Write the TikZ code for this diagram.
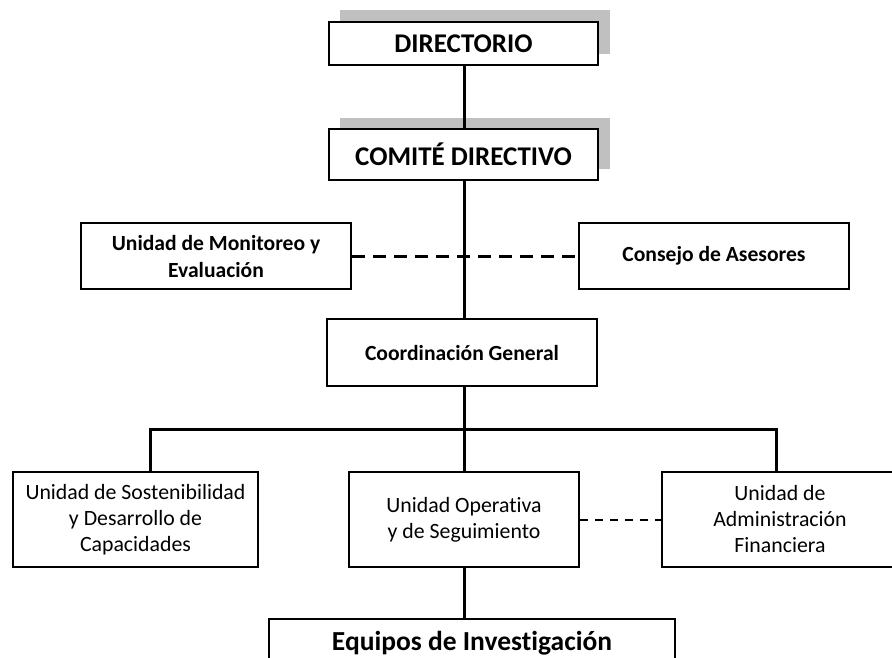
\documentclass[tikz,border=0pt]{standalone}
\usepackage{fontspec}
\setmainfont{Carlito}[Ligatures=NoCommon]
\definecolor{shadowgray}{HTML}{C0C0C0}
\begin{document}
\begin{tikzpicture}[x=1pt,y=-1pt,
  box/.style={draw=black,line width=2pt,fill=white,rectangle,inner sep=0pt,align=center,text=black},
  topbox/.style={box,font=\bfseries\fontsize{27}{32}\selectfont},
  midbox/.style={box,font=\bfseries\fontsize{21.6}{27}\selectfont},
  lowbox/.style={box,font=\fontsize{21.8}{26}\selectfont},
  conn/.style={line width=3pt,black},
  dashconn/.style={line width=3pt,black,dash pattern=on 13pt off 8pt},
  thindash/.style={line width=2pt,black,dash pattern=on 8pt off 7pt},
  shade/.style={fill=shadowgray,draw=none}]
\useasboundingbox (0,0) rectangle (892,658);
\clip (0,0) rectangle (892,658);
% shadows
\fill[shade] (340,10) rectangle (610,54);
\fill[shade] (340,118) rectangle (610,169);
% nodes
\node[topbox,minimum width=269pt,minimum height=43pt] (dir) at (463.5,43.5) {DIRECTORIO};
\node[topbox,minimum width=269pt,minimum height=51pt] (com) at (463.5,154.5) {COMITÉ DIRECTIVO};
\node[midbox,minimum width=270pt,minimum height=66pt] (mon) at (216,256) {Unidad de Monitoreo y\\Evaluación};
\node[midbox,minimum width=270pt,minimum height=66pt] (con) at (714,256) {Consejo de Asesores};
\node[midbox,minimum width=270pt,minimum height=67pt] (coo) at (462,352.5) {Coordinación General};
\node[lowbox,minimum width=245pt,minimum height=95pt] (sos) at (135.5,519.5) {Unidad de Sostenibilidad\\y Desarrollo de\\Capacidades};
\node[lowbox,minimum width=230pt,minimum height=95pt] (ope) at (464,519.5) {Unidad Operativa\\y de Seguimiento};
\node[lowbox,minimum width=236pt,minimum height=95pt] (adm) at (780,519.5) {Unidad de\\Administración\\Financiera};
\node[box,font=\bfseries\fontsize{27.5}{32}\selectfont,minimum width=406pt,minimum height=48pt] (equ) at (472,643) {Equipos de Investigación};
% bus coordinates
\coordinate (busL) at (150,429);
\coordinate (busM) at (464,429);
\coordinate (busR) at (776,429);
% connectors
\draw[conn] (dir.south -| busM) -- (com.north -| busM);
\draw[conn] (com.south -| busM) -- (coo.north -| busM);
\draw[dashconn] (mon.east) -- (con.west);
\draw[conn] (coo.south -| busM) -- (busM);
\draw[conn] (sos.north -| busL) -- (busL) -- (busR) -- (adm.north -| busR);
\draw[conn] (busM) -- (ope.north);
\draw[thindash] (ope.east) -- (adm.west);
\draw[conn] (ope.south) -- (equ.north -| ope.south);
\end{tikzpicture}
\end{document}
